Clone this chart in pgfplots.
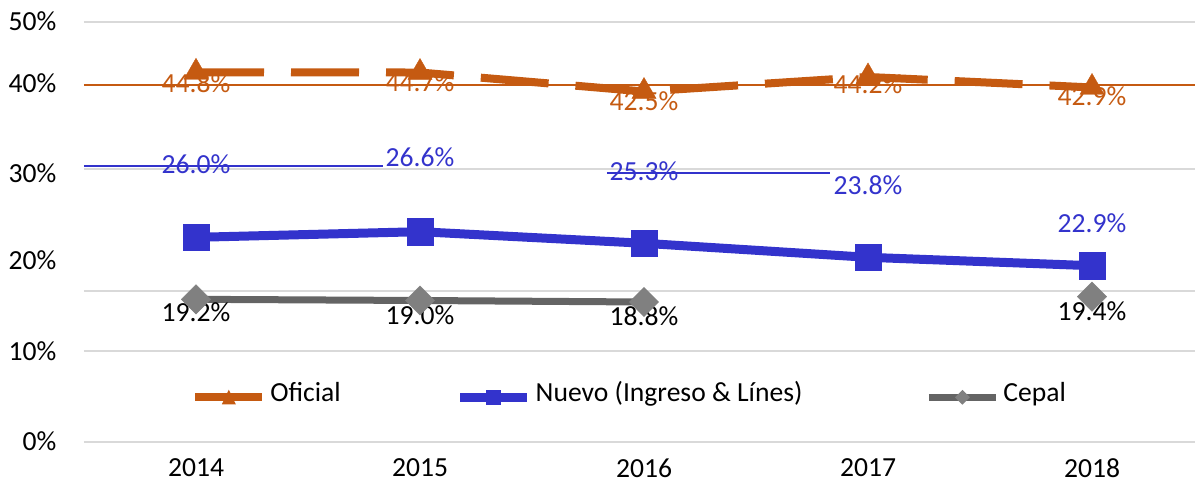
\documentclass[border=0pt]{standalone}
\usepackage{fontspec}
\setmainfont{Carlito}
\usepackage{pgfplots}
\pgfplotsset{compat=1.18}
\definecolor{ofc}{HTML}{C55A11}
\definecolor{nvo}{HTML}{3333CC}
\definecolor{cpl}{HTML}{646464}
\definecolor{cplm}{HTML}{808080}
\definecolor{grd}{HTML}{D9D9D9}
\newcommand{\lblfont}{\fontsize{13.8}{16.5}\selectfont}
\begin{document}
\begin{tikzpicture}
\useasboundingbox (0,0) rectangle (597.5pt,241pt);
\begin{axis}[
  at={(42pt,20.15pt)}, anchor=south west,
  scale only axis, width=560pt, height=210pt,
  xmin=-0.5, xmax=4.5, ymin=0, ymax=50,
  axis line style={draw=none},
  major tick length=0pt,
  xtick={0,1,2,3,4}, xticklabels={2014,2015,2016,2017,2018},
  ytick={0,10.80,21.63,31.95,42.67,50},
  yticklabels={0\%,10\%,20\%,30\%,40\%,50\%},
  extra y ticks={0,10.83,17.90,32.43,50},
  extra y tick labels={},
  extra y tick style={ymajorgrids=true, major grid style={draw=grd, line width=1pt}},
  xticklabel style={anchor=center, inner sep=0pt, yshift=-13.15pt},
  yticklabel style={anchor=east, inner sep=0pt, xshift=-13.65pt},
  tick label style={font=\lblfont},
  clip=false,
  legend columns=3,
  legend cell align=left,
  legend style={at={(axis cs:-0.021,5.76)}, anchor=west, draw=none, fill=none,
    inner sep=0pt, outer sep=0pt, font=\lblfont, column sep=0pt,
    /tikz/column 2/.append style={column sep=55.5pt},
    /tikz/column 4/.append style={column sep=59.5pt}},
]
% data labels (drawn first, under the series)
\addplot[only marks, mark=none, forget plot, nodes near coords, point meta=explicit symbolic,
  nodes near coords style={anchor=center, inner sep=0pt, font=\lblfont, text=ofc}]
  coordinates {(0,42.67)[44.8\%] (1,42.74)[44.7\%] (2,40.56)[42.5\%] (3,42.58)[44.2\%] (4,41.15)[42.9\%]};
\addplot[only marks, mark=none, forget plot, nodes near coords, point meta=explicit symbolic,
  nodes near coords style={anchor=center, inner sep=0pt, font=\lblfont, text=nvo}]
  coordinates {(0,33.06)[26.0\%] (1,33.83)[26.6\%] (2,32.23)[25.3\%] (3,30.56)[23.8\%] (4,26.04)[22.9\%]};
\addplot[only marks, mark=none, forget plot, nodes near coords, point meta=explicit symbolic,
  nodes near coords style={anchor=center, inner sep=0pt, font=\lblfont, text=black}]
  coordinates {(0,15.38)[19.2\%] (1,15.08)[19.0\%] (2,14.90)[18.8\%] (4,15.56)[19.4\%]};
% straight reference lines
\addplot[ofc, line width=1.25pt, forget plot] coordinates {(-0.5,42.46) (4.5,42.46)};
\addplot[nvo, line width=1pt, forget plot] coordinates {(-0.5,32.82) (0.836,32.82)};
\addplot[nvo, line width=1pt, forget plot] coordinates {(1.834,32.02) (2.83,32.02)};
% series
\addplot[ofc, line width=4pt, dash pattern=on 34pt off 13.5pt,
  mark=triangle*, mark size=7pt, mark options={solid, fill=ofc, draw=ofc, line width=0.2pt},
  legend image code/.code={
    \draw[ofc, solid, line width=4pt] (0pt,-2pt) -- (33.5pt,-2pt);
    \path[draw=none, fill=ofc] (13.25pt,-5.5pt) -- (20.25pt,-5.5pt) -- (16.75pt,1.8pt) -- cycle;}]
  coordinates {(0,43.98) (1,43.95) (2,41.69) (3,43.42) (4,42.17)};
\addlegendentry{Oficial}
\addplot[nvo, line width=4.5pt, mark=square*, mark size=6.6pt, mark options={fill=nvo, draw=nvo, line width=0.2pt},
  legend image code/.code={
    \draw[nvo, line width=4.5pt] (0pt,-2pt) -- (33.5pt,-2pt);
    \path[draw=none, fill=nvo] (12.95pt,-5.8pt) rectangle (20.55pt,1.8pt);}]
  coordinates {(0,24.33) (1,25.00) (2,23.62) (3,21.95) (4,20.95)};
\addlegendentry{Nuevo (Ingreso \& Línes)}
\addplot[cpl, line width=3.5pt, mark=square*, mark size=5.2pt, mark options={fill=cplm, draw=cplm, line width=0.2pt, rotate=45},
  unbounded coords=jump,
  legend image code/.code={
    \draw[cpl, line width=3.5pt] (0pt,-2pt) -- (33.5pt,-2pt);
    \path[draw=none, fill=cplm] (16.75pt,1.7pt) -- (20.45pt,-2pt) -- (16.75pt,-5.7pt) -- (13.05pt,-2pt) -- cycle;}]
  coordinates {(0,16.95) (1,16.81) (2,16.63) (3,nan) (4,17.26)};
\addlegendentry{Cepal}
\end{axis}
\end{tikzpicture}
\end{document}
